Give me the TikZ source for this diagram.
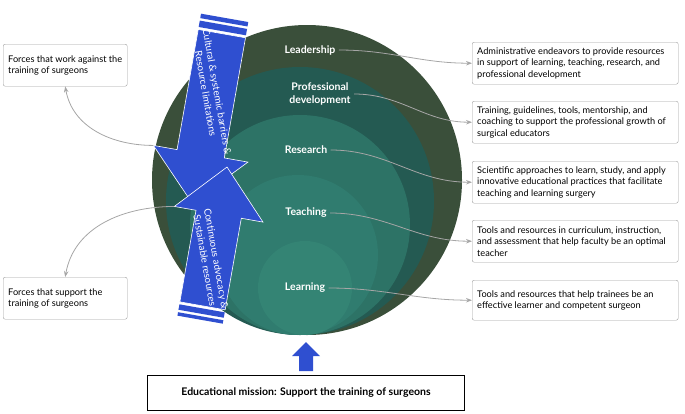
\documentclass[tikz,border=0pt]{standalone}
\usepackage{fontspec}
\setmainfont{Lato}
\usetikzlibrary{arrows.meta}

\definecolor{ringA}{HTML}{3A4F3A}
\definecolor{ringB}{HTML}{245A52}
\definecolor{ringC}{HTML}{2D7366}
\definecolor{ringD}{HTML}{307C6F}
\definecolor{ringE}{HTML}{348474}
\definecolor{blockblue}{HTML}{2F4FD0}

\tikzset{
  infobox/.style = {draw = gray!75, rounded corners = 2pt, fill = white, inner sep = 5pt,
    align = flush left, text width = 196pt, minimum height = 42pt, anchor = north west,
    font = \fontsize{9.2}{11.5}\selectfont},
  sidebox/.style = {infobox, text width = 114pt},
  ringlabel/.style = {text = white, font = \bfseries\fontsize{10.5}{12.5}\selectfont, align = center},
  link/.style = {draw = gray!70, thick, -{Stealth[length=6pt]}},
  arrowtext/.style = {text = white, align = center, rotate = -80,
    font = \fontsize{9.8}{11.5}\selectfont},
  blocky/.style = {fill = blockblue, draw = white, line width = 0.6pt}
}

\begin{document}
\begin{tikzpicture}[x = 1pt, y = -1pt]
	\useasboundingbox (0,0) rectangle (685,413);

	% nested circles
	\fill[ringA] (307,180) circle (155);
	\fill[ringB] (300,201) circle (134);
	\fill[ringC] (300,225) circle (110);
	\fill[ringD] (298,255) circle (80);
	\fill[ringE] (305,288) circle (47);

	\node[ringlabel] (lead)  at (310, 50) {Leadership};
	\node[ringlabel] (prof)  at (320, 94) {Professional\\development};
	\node[ringlabel] (res)   at (306,150) {Research};
	\node[ringlabel] (teach) at (306,213) {Teaching};
	\node[ringlabel] (learn) at (305,288) {Learning};

	% right boxes
	\node[infobox] (b1) at (472, 42) {Administrative endeavors to provide resources in support of learning, teaching, research, and professional development};
	\node[infobox] (b2) at (472,101) {Training, guidelines, tools, mentorship, and coaching to support the professional growth of surgical educators};
	\node[infobox] (b3) at (472,161) {Scientific approaches to learn, study, and apply innovative educational practices that facilitate teaching and learning surgery};
	\node[infobox] (b4) at (472,220) {Tools and resources in curriculum, instruction, and assessment that help faculty be an optimal teacher};
	\node[infobox, minimum height = 40pt] (b5) at (472,280) {Tools and resources that help trainees be an effective learner and competent surgeon};

	\foreach \from/\to in {lead/b1, prof/b2, res/b3, teach/b4, learn/b5}
		\draw[link] (\from.east) to[out=0, in=180] (\to.west);

	% left boxes
	\node[sidebox] (against) at (3, 44) {Forces that work against the training of surgeons};
	\node[sidebox] (support) at (3,277) {Forces that support the training of surgeons};

	% barrier arrow (down)
	\begin{scope}[shift = {(192,203)}, rotate = -10]
		\draw[blocky] (0,0) -- (48,-50) -- (24,-50) -- (24,-172) -- (-24,-172) -- (-24,-50) -- (-48,-50) -- cycle;
		\fill[blockblue] (-24,-174.5) rectangle (24,-181);
		\fill[blockblue] (-24,-183.5) rectangle (24,-188);
		\coordinate (downcorner) at (-48,-50);
		\node[arrowtext] (barrier) at (0,-112) {Cultural \& systemic barriers \&\\Resource limitations};
	\end{scope}

	% advocacy arrow (up)
	\begin{scope}[shift = {(227,167)}, rotate = -10]
		\draw[blocky] (0,0) -- (45,48) -- (23,48) -- (23,141) -- (-23,141) -- (-23,48) -- (-45,48) -- cycle;
		\fill[blockblue] (-23,143.5) rectangle (23,149);
		\fill[blockblue] (-23,151.5) rectangle (23,155);
		\coordinate (upcorner) at (-45,48);
		\node[arrowtext] (advocacy) at (0,94) {Continuous advocacy \&\\Sustainable resources};
	\end{scope}

	\draw[link] (downcorner) to[out=180, in=-80] (against.south);
	\draw[link] (upcorner) to[out=180, in=80] (support.north);

	% mission
	\node[draw = black, thick, fill = white, minimum width = 317pt, minimum height = 35pt,
		font = \bfseries\fontsize{10.5}{12}\selectfont] (mission) at (306,393) {Educational mission: Support the training of surgeons};
	\fill[blockblue] (299,371) -- (299,356) -- (292,356) -- (306,342) -- (320,356) -- (313,356) -- (313,371) -- cycle;
\end{tikzpicture}
\end{document}
